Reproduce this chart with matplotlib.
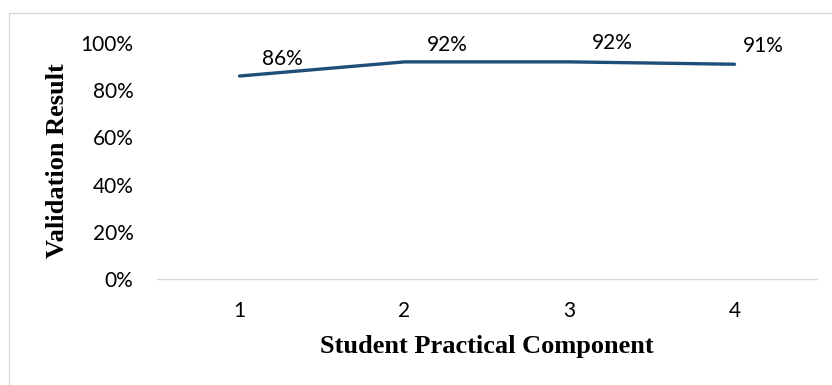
import matplotlib
matplotlib.use('Agg')
import matplotlib.pyplot as plt
from matplotlib.patches import Rectangle
from matplotlib.ticker import PercentFormatter

components = [1, 2, 3, 4]
results = [0.86, 0.92, 0.92, 0.91]
y_ticks = [0, 0.2, 0.4, 0.6, 0.8, 1.0]

line_color = '#1f4e79'
tick_font = 'Lato'
title_font = 'Liberation Serif'

fig = plt.figure(figsize=(8.32, 3.85), dpi=100)
# chart frame (runs off the right and bottom edge)
fig.patches.append(Rectangle((9 / 832, -0.05), 1.0, 1 - 13 / 385 + 0.05,
                             transform=fig.transFigure, fill=False,
                             edgecolor='#d9d9d9', linewidth=1.0))

ax = fig.add_axes([157 / 832, 1 - 279 / 385, 660 / 832, 236 / 385])
ax.plot(components, results, color=line_color, linewidth=2.4,
        solid_capstyle='round', clip_on=False)

# value labels sit up and to the right of each point
label_offsets = [(31, 12), (31, 12), (31, 13.5), (21, 13)]
for x, y, off in zip(components, results, label_offsets):
    ax.annotate(f'{y:.0%}', (x, y), xytext=off, textcoords='offset points',
                ha='center', va='center', fontsize=15, family=tick_font,
                color='#000000', annotation_clip=False)

ax.set_xlim(0.5, 4.5)
ax.set_ylim(0, 1)
ax.set_xticks(components)
ax.set_yticks(y_ticks)
ax.yaxis.set_major_formatter(PercentFormatter(1.0, decimals=0))
ax.tick_params(length=0, labelsize=15, labelcolor='#000000', pad=0)
ax.tick_params(axis='y', pad=17)
ax.tick_params(axis='x', pad=16)
for lab in ax.get_xticklabels() + ax.get_yticklabels():
    lab.set_family(tick_font)

for side in ['top', 'right', 'left']:
    ax.spines[side].set_visible(False)
ax.spines['bottom'].set_color('#d9d9d9')
ax.spines['bottom'].set_linewidth(1.0)

fig.text(487 / 832, 1 - 347 / 385, 'Student Practical Component',
         ha='center', va='center', fontsize=19, fontweight='bold',
         family=title_font)
fig.text(58 / 832, 1 - 161 / 385, 'Validation Result', rotation=90,
         ha='center', va='center', fontsize=19, fontweight='bold',
         family=title_font)

fig.savefig('out.png', dpi=100)
